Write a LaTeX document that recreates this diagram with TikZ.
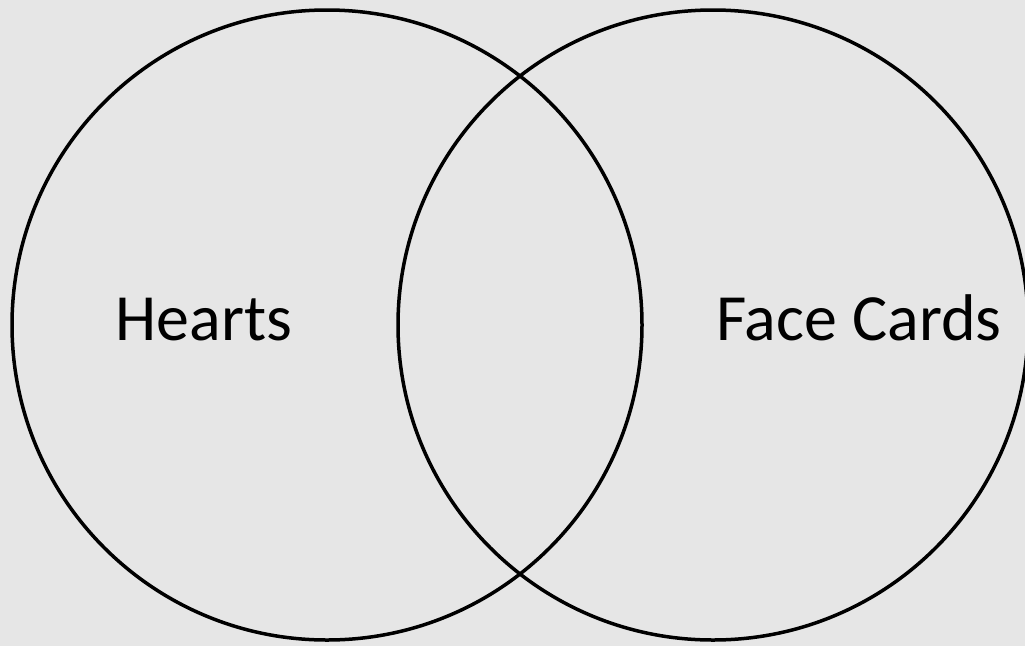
\documentclass[tikz,border=0pt]{standalone}
\usepackage{fontspec}
\setmainfont{Carlito}
\usepackage{xcolor}
\usetikzlibrary{positioning}
\definecolor{slidegray}{RGB}{230,230,230}

\begin{document}
\begin{tikzpicture}[
  x=1pt, y=-1pt,
  setring/.style={circle, draw=black, line width=3.5pt, minimum size=630pt, inner sep=0pt},
  setlabel/.style={font=\fontsize{66}{79}\selectfont, inner sep=0pt, anchor=base}
]
  \fill[slidegray] (0,0) rectangle (1025,646);
  \useasboundingbox (0,0) rectangle (1025,646);

  \node[setring] (hearts) at (327,325) {};
  \node[setring] (face) at (713,325) {};

  \node[setlabel] (heartslbl) at (204,340) {Hearts};
  \node[setlabel] (facelbl) at (859,340) {Face Cards};
\end{tikzpicture}
\end{document}
